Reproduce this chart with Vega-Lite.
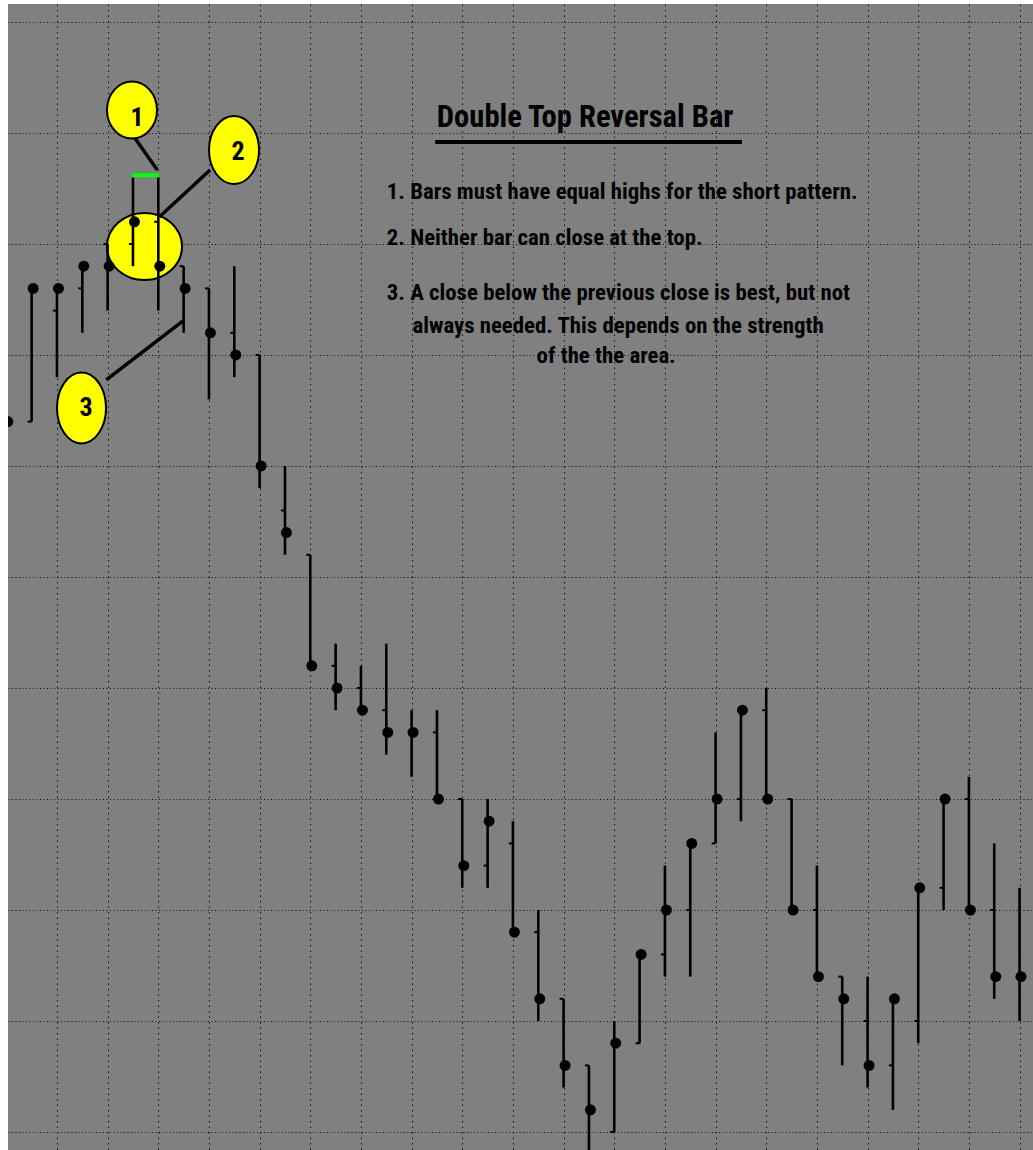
{
  "$schema": "https://vega.github.io/schema/vega-lite/v6.json",
  "width": 1033,
  "height": 1150,
  "autosize": {"type": "fit", "contains": "padding"},
  "padding": {"left": 8, "top": 4, "right": 0, "bottom": 0},
  "background": "white",
  "config": {
    "view": {"fill": "#808080", "stroke": null},
    "axis": {"grid": true, "gridColor": "#111111", "gridOpacity": 1, "gridWidth": 1, "domain": false, "ticks": false, "labels": false, "title": null},
    "axisX": {"gridDash": [1.5, 4]},
    "axisY": {"gridDash": [1, 2.5]}
  },
  "datasets": {
    "bars": [
      {"i": 0, "open": 630, "high": 650, "low": 620, "close": 640},
      {"i": 1, "open": 640, "high": 760, "low": 640, "close": 760},
      {"i": 2, "open": 740, "high": 760, "low": 680, "close": 760},
      {"i": 3, "open": 760, "high": 780, "low": 720, "close": 780},
      {"i": 4, "open": 800, "high": 800, "low": 740, "close": 780},
      {"i": 5, "open": 800, "high": 860, "low": 780, "close": 820},
      {"i": 6, "open": 820, "high": 860, "low": 740, "close": 780},
      {"i": 7, "open": 780, "high": 780, "low": 720, "close": 760},
      {"i": 8, "open": 760, "high": 760, "low": 660, "close": 720},
      {"i": 9, "open": 720, "high": 780, "low": 680, "close": 700},
      {"i": 10, "open": 700, "high": 700, "low": 580, "close": 600},
      {"i": 11, "open": 560, "high": 600, "low": 520, "close": 540},
      {"i": 12, "open": 520, "high": 520, "low": 420, "close": 420},
      {"i": 13, "open": 420, "high": 440, "low": 380, "close": 400},
      {"i": 14, "open": 400, "high": 420, "low": 380, "close": 380},
      {"i": 15, "open": 380, "high": 440, "low": 340, "close": 360},
      {"i": 16, "open": 360, "high": 380, "low": 320, "close": 360},
      {"i": 17, "open": 360, "high": 380, "low": 300, "close": 300},
      {"i": 18, "open": 300, "high": 300, "low": 220, "close": 240},
      {"i": 19, "open": 240, "high": 300, "low": 220, "close": 280},
      {"i": 20, "open": 260, "high": 280, "low": 180, "close": 180},
      {"i": 21, "open": 180, "high": 200, "low": 100, "close": 120},
      {"i": 22, "open": 120, "high": 120, "low": 40, "close": 60},
      {"i": 23, "open": 60, "high": 60, "low": -20, "close": 20},
      {"i": 24, "open": 0, "high": 100, "low": 0, "close": 80},
      {"i": 25, "open": 80, "high": 160, "low": 80, "close": 160},
      {"i": 26, "open": 160, "high": 240, "low": 140, "close": 200},
      {"i": 27, "open": 200, "high": 260, "low": 140, "close": 260},
      {"i": 28, "open": 260, "high": 360, "low": 260, "close": 300},
      {"i": 29, "open": 300, "high": 380, "low": 280, "close": 380},
      {"i": 30, "open": 380, "high": 400, "low": 300, "close": 300},
      {"i": 31, "open": 300, "high": 300, "low": 200, "close": 200},
      {"i": 32, "open": 200, "high": 240, "low": 140, "close": 140},
      {"i": 33, "open": 140, "high": 140, "low": 60, "close": 120},
      {"i": 34, "open": 100, "high": 140, "low": 40, "close": 60},
      {"i": 35, "open": 60, "high": 120, "low": 20, "close": 120},
      {"i": 36, "open": 100, "high": 220, "low": 80, "close": 220},
      {"i": 37, "open": 220, "high": 300, "low": 200, "close": 300},
      {"i": 38, "open": 300, "high": 320, "low": 200, "close": 200},
      {"i": 39, "open": 200, "high": 260, "low": 120, "close": 140},
      {"i": 40, "open": 140, "high": 220, "low": 100, "close": 140}
    ],
    "bigEllipse": [{"x": 5.456, "y": 797.7}],
    "circle1": [{"x": 4.962, "y": 920.7}],
    "circle2": [{"x": 8.989, "y": 884.7}],
    "circle3": [{"x": 2.969, "y": 652.3}],
    "numbers": [
      {"label": "1", "x": 5.16, "y": 913.5},
      {"label": "2", "x": 9.15, "y": 882.9},
      {"label": "3", "x": 3.146, "y": 652.3}
    ],
    "links": [
      {"x": 4.99, "y": 898.2, "x2": 5.961, "y2": 866.7},
      {"x": 8.042, "y": 866.7, "x2": 6.04, "y2": 824.3},
      {"x": 3.948, "y": 677.5, "x2": 6.964, "y2": 730.6}
    ],
    "green": [{"x": 4.95, "x2": 6.03, "y": 862}],
    "underline": [{"x": 16.93, "x2": 29.04, "y": 891.9}],
    "title": [{"text": "Double Top Reversal Bar", "x": 22.85, "y": 905.4}],
    "notesLeft": [
      {"text": "1. Bars must have equal highs for the short pattern.", "x": 15.02, "y": 840.5},
      {"text": "2. Neither bar can close at the top.", "x": 15.02, "y": 799.1},
      {"text": "3. A close below the previous close is best, but not", "x": 15.02, "y": 749.5}
    ],
    "notesCenter": [
      {"text": "always needed. This depends on the strength", "x": 24.15, "y": 719.8},
      {"text": "of the the area.", "x": 23.68, "y": 692.8}
    ]
  },
  "layer": [
    {
      "data": {"name": "bigEllipse"},
      "mark": {"type": "point", "shape": "M1,0C1,0.4932 0.5523,0.893 0,0.893C-0.5523,0.893 -1,0.4932 -1,0C-1,-0.4932 -0.5523,-0.893 0,-0.893C0.5523,-0.893 1,-0.4932 1,0Z", "size": 5625, "filled": true, "fill": "#FFFF00", "stroke": "#000000", "strokeWidth": 2, "opacity": 1},
      "encoding": {
        "x": {"field": "x", "type": "quantitative", "scale": {"domain": [0.067, 40.53], "nice": false, "zero": false}, "axis": {"values": [0, 2, 4, 6, 8, 10, 12, 14, 16, 18, 20, 22, 24, 26, 28, 30, 32, 34, 36, 38, 40]}},
        "y": {"field": "y", "type": "quantitative", "scale": {"domain": [-16.2, 1016.2], "nice": false, "zero": false}, "axis": {"values": [0, 100, 200, 300, 400, 500, 600, 700, 800, 900, 1000]}}
      }
    },
    {
      "data": {"name": "bars"},
      "mark": {"type": "rule", "strokeWidth": 2.6, "color": "#000000", "clip": true},
      "encoding": {
        "x": {"field": "i", "type": "quantitative", "scale": {"domain": [0.067, 40.53], "nice": false, "zero": false}},
        "y": {"field": "high", "type": "quantitative", "scale": {"domain": [-16.2, 1016.2], "nice": false, "zero": false}},
        "y2": {"field": "low"}
      }
    },
    {
      "data": {"name": "bars"},
      "mark": {"type": "tick", "orient": "horizontal", "size": 4, "thickness": 2, "xOffset": -2, "color": "#000000", "opacity": 1, "clip": true},
      "encoding": {
        "x": {"field": "i", "type": "quantitative", "scale": {"domain": [0.067, 40.53], "nice": false, "zero": false}},
        "y": {"field": "open", "type": "quantitative", "scale": {"domain": [-16.2, 1016.2], "nice": false, "zero": false}}
      }
    },
    {
      "data": {"name": "bars"},
      "mark": {"type": "point", "shape": "circle", "filled": true, "size": 120, "color": "#000000", "opacity": 1, "xOffset": 1.5, "clip": true},
      "encoding": {
        "x": {"field": "i", "type": "quantitative", "scale": {"domain": [0.067, 40.53], "nice": false, "zero": false}},
        "y": {"field": "close", "type": "quantitative", "scale": {"domain": [-16.2, 1016.2], "nice": false, "zero": false}}
      }
    },
    {
      "data": {"name": "green"},
      "mark": {"type": "rule", "strokeWidth": 4, "color": "#00FF00"},
      "encoding": {
        "x": {"field": "x", "type": "quantitative", "scale": {"domain": [0.067, 40.53], "nice": false, "zero": false}},
        "x2": {"field": "x2"},
        "y": {"field": "y", "type": "quantitative", "scale": {"domain": [-16.2, 1016.2], "nice": false, "zero": false}}
      }
    },
    {
      "data": {"name": "links"},
      "mark": {"type": "rule", "strokeWidth": 3.5, "color": "#000000"},
      "encoding": {
        "x": {"field": "x", "type": "quantitative", "scale": {"domain": [0.067, 40.53], "nice": false, "zero": false}},
        "x2": {"field": "x2"},
        "y": {"field": "y", "type": "quantitative", "scale": {"domain": [-16.2, 1016.2], "nice": false, "zero": false}},
        "y2": {"field": "y2"}
      }
    },
    {
      "data": {"name": "circle1"},
      "mark": {"type": "point", "shape": "M0.877,0C0.877,0.5523 0.4844,1 0,1C-0.4844,1 -0.877,0.5523 -0.877,0C-0.877,-0.5523 -0.4844,-1 0,-1C0.4844,-1 0.877,-0.5523 0.877,0Z", "size": 3249, "filled": true, "fill": "#FFFF00", "stroke": "#000000", "strokeWidth": 2, "opacity": 1},
      "encoding": {
        "x": {"field": "x", "type": "quantitative", "scale": {"domain": [0.067, 40.53], "nice": false, "zero": false}},
        "y": {"field": "y", "type": "quantitative", "scale": {"domain": [-16.2, 1016.2], "nice": false, "zero": false}}
      }
    },
    {
      "data": {"name": "circle2"},
      "mark": {"type": "point", "shape": "M0.735,0C0.735,0.5523 0.406,1 0,1C-0.406,1 -0.735,0.5523 -0.735,0C-0.735,-0.5523 -0.406,-1 0,-1C0.406,-1 0.735,-0.5523 0.735,0Z", "size": 4624, "filled": true, "fill": "#FFFF00", "stroke": "#000000", "strokeWidth": 2, "opacity": 1},
      "encoding": {
        "x": {"field": "x", "type": "quantitative", "scale": {"domain": [0.067, 40.53], "nice": false, "zero": false}},
        "y": {"field": "y", "type": "quantitative", "scale": {"domain": [-16.2, 1016.2], "nice": false, "zero": false}}
      }
    },
    {
      "data": {"name": "circle3"},
      "mark": {"type": "point", "shape": "M0.69,0C0.69,0.5523 0.381,1 0,1C-0.381,1 -0.69,0.5523 -0.69,0C-0.69,-0.5523 -0.381,-1 0,-1C0.381,-1 0.69,-0.5523 0.69,0Z", "size": 5041, "filled": true, "fill": "#FFFF00", "stroke": "#000000", "strokeWidth": 2, "opacity": 1},
      "encoding": {
        "x": {"field": "x", "type": "quantitative", "scale": {"domain": [0.067, 40.53], "nice": false, "zero": false}},
        "y": {"field": "y", "type": "quantitative", "scale": {"domain": [-16.2, 1016.2], "nice": false, "zero": false}}
      }
    },
    {
      "data": {"name": "numbers"},
      "mark": {"type": "text", "font": "Liberation Sans Narrow, Roboto Condensed, DejaVu Sans Condensed, sans-serif", "fontWeight": "bold", "fontSize": 26, "color": "#000000", "align": "center", "baseline": "middle"},
      "encoding": {
        "x": {"field": "x", "type": "quantitative", "scale": {"domain": [0.067, 40.53], "nice": false, "zero": false}},
        "y": {"field": "y", "type": "quantitative", "scale": {"domain": [-16.2, 1016.2], "nice": false, "zero": false}},
        "text": {"field": "label"}
      }
    },
    {
      "data": {"name": "underline"},
      "mark": {"type": "rule", "strokeWidth": 4, "color": "#000000"},
      "encoding": {
        "x": {"field": "x", "type": "quantitative", "scale": {"domain": [0.067, 40.53], "nice": false, "zero": false}},
        "x2": {"field": "x2"},
        "y": {"field": "y", "type": "quantitative", "scale": {"domain": [-16.2, 1016.2], "nice": false, "zero": false}}
      }
    },
    {
      "data": {"name": "title"},
      "mark": {"type": "text", "font": "Liberation Sans Narrow, Roboto Condensed, DejaVu Sans Condensed, sans-serif", "fontWeight": "bold", "fontSize": 30.6, "color": "#000000", "align": "center", "baseline": "alphabetic"},
      "encoding": {
        "x": {"field": "x", "type": "quantitative", "scale": {"domain": [0.067, 40.53], "nice": false, "zero": false}},
        "y": {"field": "y", "type": "quantitative", "scale": {"domain": [-16.2, 1016.2], "nice": false, "zero": false}},
        "text": {"field": "text"}
      }
    },
    {
      "data": {"name": "notesLeft"},
      "mark": {"type": "text", "font": "Liberation Sans Narrow, Roboto Condensed, DejaVu Sans Condensed, sans-serif", "fontWeight": "bold", "fontSize": 22.8, "color": "#000000", "align": "left", "baseline": "alphabetic"},
      "encoding": {
        "x": {"field": "x", "type": "quantitative", "scale": {"domain": [0.067, 40.53], "nice": false, "zero": false}},
        "y": {"field": "y", "type": "quantitative", "scale": {"domain": [-16.2, 1016.2], "nice": false, "zero": false}},
        "text": {"field": "text"}
      }
    },
    {
      "data": {"name": "notesCenter"},
      "mark": {"type": "text", "font": "Liberation Sans Narrow, Roboto Condensed, DejaVu Sans Condensed, sans-serif", "fontWeight": "bold", "fontSize": 22.8, "color": "#000000", "align": "center", "baseline": "alphabetic"},
      "encoding": {
        "x": {"field": "x", "type": "quantitative", "scale": {"domain": [0.067, 40.53], "nice": false, "zero": false}},
        "y": {"field": "y", "type": "quantitative", "scale": {"domain": [-16.2, 1016.2], "nice": false, "zero": false}},
        "text": {"field": "text"}
      }
    }
  ]
}
